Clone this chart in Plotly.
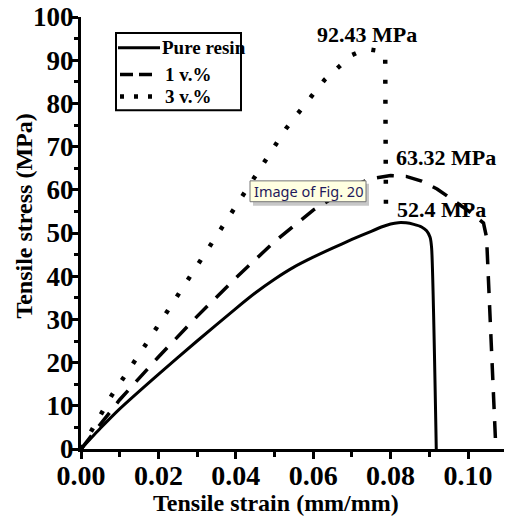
import plotly.graph_objects as go

# Tensile stress-strain curves (strain in mm/mm, stress in MPa)
strain_pure = [0, 0.005, 0.01, 0.02, 0.03, 0.04, 0.045, 0.05, 0.055, 0.06, 0.065,
               0.07, 0.075, 0.078, 0.08, 0.082, 0.084, 0.086, 0.088, 0.0893,
               0.0902, 0.0906, 0.0918]
stress_pure = [0, 4.8, 9.3, 17.3, 25.0, 32.5, 36.1, 39.3, 42.1, 44.4, 46.5,
               48.5, 50.4, 51.5, 52.1, 52.4, 52.35, 52.0, 51.4, 50.5,
               49.0, 46.5, 0]

strain_1v = [0, 0.005, 0.01, 0.02, 0.03, 0.04, 0.05, 0.06, 0.07, 0.075, 0.08,
             0.084, 0.088, 0.092, 0.096, 0.1, 0.104, 0.1048, 0.1072]
stress_1v = [0, 5.8, 11.4, 21.3, 30.7, 39.6, 48.0, 55.3, 60.8, 62.6, 63.32,
             63.1, 62.0, 60.2, 57.8, 55.2, 52.3, 49.0, 0]

strain_3v = [0, 0.004, 0.008, 0.016, 0.024, 0.032, 0.04, 0.047, 0.053, 0.0595,
             0.063, 0.0667, 0.07, 0.0725, 0.075, 0.0772, 0.0786, 0.0788]
stress_3v = [0, 6.0, 12.5, 23.2, 34.0, 45.2, 56.2, 66.0, 74.2, 81.6,
             85.5, 88.5, 91.2, 92.2, 92.43, 92.1, 91.3, 55.5]

series_names = ["Pure resin", "1 v.%", "3 v.%"]
peak_labels = ["52.4 MPa", "63.32 MPa", "92.43 MPa"]

x_ticks = [0.00, 0.02, 0.04, 0.06, 0.08, 0.10]
x_tick_text = ["0.00", "0.02", "0.04", "0.06", "0.08", "0.10"]
y_ticks = [0, 10, 20, 30, 40, 50, 60, 70, 80, 90, 100]

# Canvas geometry
W, H = 506, 519
M_L, M_R, M_T, M_B = 81, 2, 14, 70
X_MAX = 0.1093
Y_MAX = 100

SERIF = "Liberation Serif"
DASH_1V = "17px,12px"
DOT_3V = "4px,16px"


def px(x):
    """Pixel column -> paper x."""
    return (x - M_L) / (W - M_L - M_R)


def py(y):
    """Pixel row -> paper y."""
    return (H - M_B - y) / (H - M_T - M_B)


fig = go.Figure()

fig.add_trace(go.Scatter(x=strain_pure, y=stress_pure, mode="lines",
                         name=series_names[0], showlegend=False,
                         line=dict(color="black", width=3, dash="solid",
                                   shape="spline", smoothing=0.6)))
fig.add_trace(go.Scatter(x=strain_1v, y=stress_1v, mode="lines",
                         name=series_names[1], showlegend=False,
                         line=dict(color="black", width=3.5, dash=DASH_1V)))
fig.add_trace(go.Scatter(x=strain_3v, y=stress_3v, mode="lines",
                         name=series_names[2], showlegend=False,
                         line=dict(color="black", width=4.5, dash=DOT_3V)))

shapes = []
annotations = []

# Legend box with line samples
shapes.append(dict(type="rect", xref="paper", yref="paper",
                   x0=px(116), x1=px(241), y0=py(108), y1=py(30),
                   line=dict(color="black", width=2), fillcolor="white",
                   layer="above"))
legend_rows = [45, 72, 94]
legend_styles = [("solid", 3), ("13px,6px", 3.5), ("4px,10px", 4.5)]
legend_sample = [(118, 160), (120, 154), (120, 152)]
legend_text_x = [160, 163, 163]
for name, row, (dash, w), (a, b), tx in zip(series_names, legend_rows,
                                             legend_styles, legend_sample,
                                             legend_text_x):
    shapes.append(dict(type="line", xref="paper", yref="paper",
                       x0=px(a), x1=px(b), y0=py(row), y1=py(row),
                       line=dict(color="black", width=w, dash=dash),
                       layer="above"))
    annotations.append(dict(xref="paper", yref="paper", x=px(tx), y=py(row),
                            text=name, showarrow=False, xanchor="left",
                            yanchor="middle",
                            font=dict(family=SERIF, size=19, color="black",
                                      weight="bold")))

# Peak stress labels
peak_pos = [(441, 208), (446, 155), (367, 32)]
for text, (x, y) in zip(peak_labels, peak_pos):
    annotations.append(dict(xref="paper", yref="paper", x=px(x), y=py(y),
                            text=text, showarrow=False, xanchor="center",
                            yanchor="middle",
                            font=dict(family=SERIF, size=22, color="black",
                                      weight="bold")))

# Axis titles
annotations.append(dict(xref="paper", yref="paper", x=px(276), y=py(503),
                        text="Tensile strain (mm/mm)", showarrow=False,
                        xanchor="center", yanchor="middle",
                        font=dict(family=SERIF, size=24, color="black",
                                  weight="bold")))
annotations.append(dict(xref="paper", yref="paper", x=px(24), y=py(215),
                        text="Tensile stress (MPa)", showarrow=False,
                        xanchor="center", yanchor="middle", textangle=-90,
                        font=dict(family=SERIF, size=24, color="black",
                                  weight="bold")))

# Hover caption box
shapes.append(dict(type="rect", xref="paper", yref="paper",
                   x0=px(253), x1=px(369), y0=py(204), y1=py(182),
                   line=dict(width=0), fillcolor="rgba(0,0,0,0.22)",
                   layer="above"))
shapes.append(dict(type="rect", xref="paper", yref="paper",
                   x0=px(250), x1=px(366), y0=py(200), y1=py(179),
                   line=dict(color="#767676", width=1), fillcolor="#ffffe1",
                   layer="above"))
annotations.append(dict(xref="paper", yref="paper", x=px(308), y=py(189.5),
                        text="Image of Fig. 20", showarrow=False,
                        xanchor="center", yanchor="middle",
                        font=dict(family="Noto Sans", size=14.5,
                                  color="#1f1a5c")))

axis_common = dict(
    showline=True, linecolor="black", linewidth=3, mirror=False,
    showgrid=False, zeroline=False, ticklabeloverflow="allow",
    ticks="outside", tickcolor="black", tickwidth=3, ticklen=7,
)

fig.update_layout(
    width=W, height=H,
    margin=dict(l=M_L, r=M_R, t=M_T, b=M_B, pad=0),
    paper_bgcolor="white", plot_bgcolor="white",
    showlegend=False,
    shapes=shapes, annotations=annotations,
    xaxis=dict(
        range=[0, X_MAX], tickvals=x_ticks, ticktext=x_tick_text,
        tickfont=dict(family=SERIF, size=28, color="black", weight="bold"),
        ticklabelstandoff=-8,
        minor=dict(dtick=0.01, tick0=0, ticks="outside", ticklen=5,
                   tickwidth=2.5, tickcolor="black"),
        **axis_common,
    ),
    yaxis=dict(
        range=[0, Y_MAX], tickvals=y_ticks,
        tickfont=dict(family=SERIF, size=27, color="black", weight="bold"),
        ticklabelstandoff=-8,
        minor=dict(dtick=5, tick0=0, ticks="outside", ticklen=4,
                   tickwidth=2.5, tickcolor="black"),
        **axis_common,
    ),
)

fig.write_html("out.html")
